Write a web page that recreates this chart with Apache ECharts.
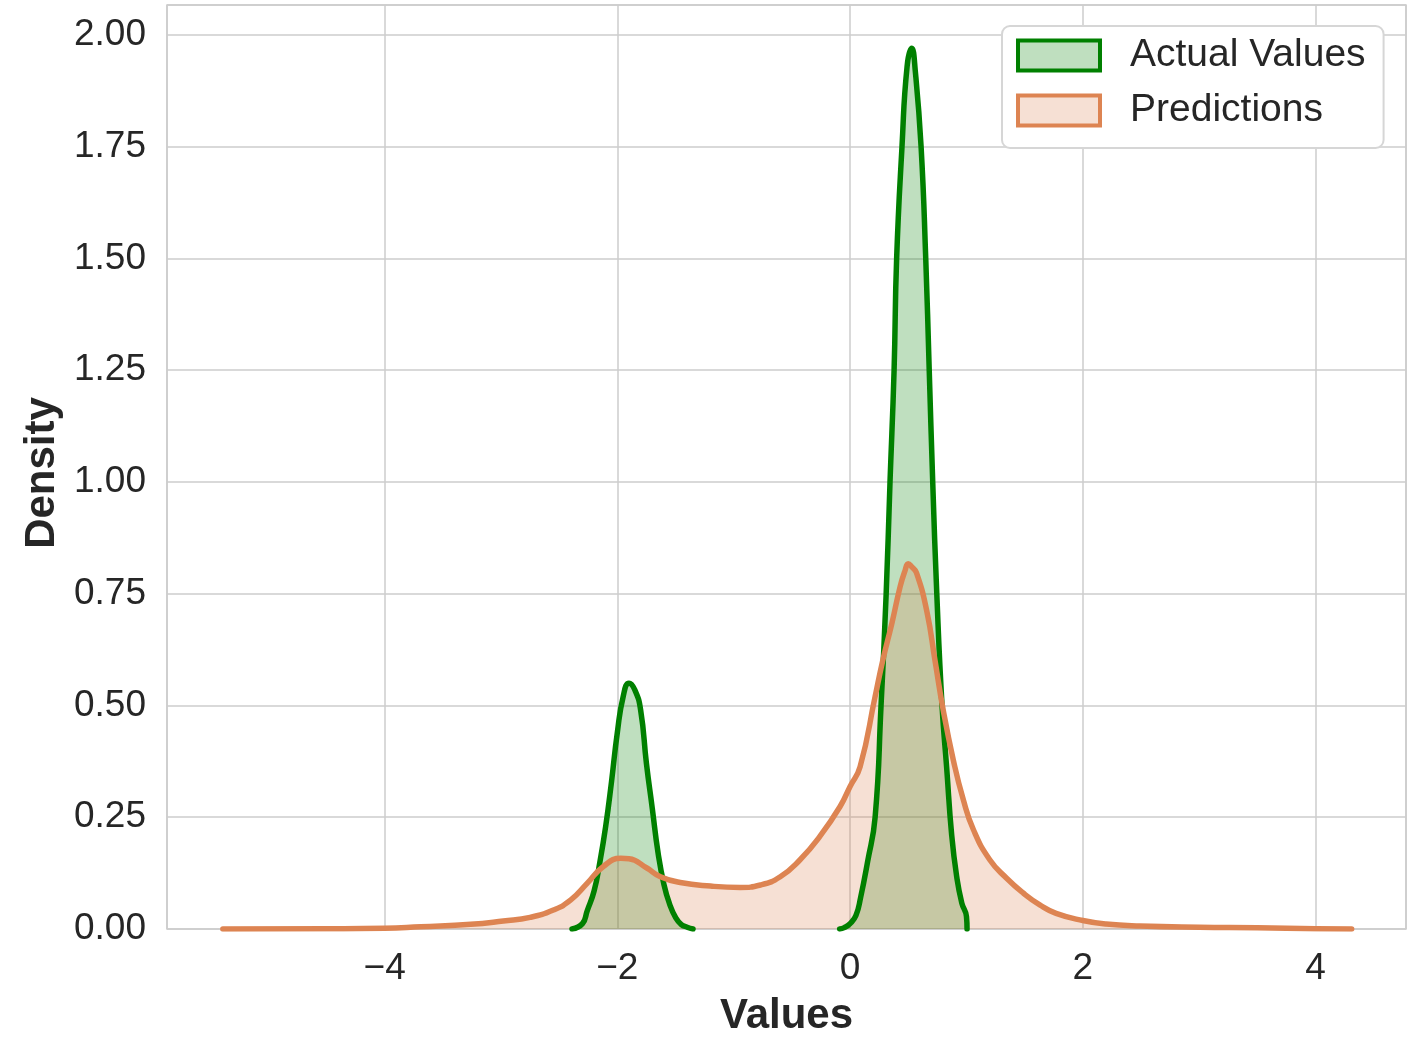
<!DOCTYPE html>
<html>
<head>
<meta charset="utf-8">
<script src="https://cdn.jsdelivr.net/npm/echarts@6/dist/echarts.min.js"></script>
<style>
  html, body { margin: 0; padding: 0; background: #fff; }
  #chart { width: 1426px; height: 1056px; }
</style>
</head>
<body>
<div id="chart"></div>
<script>
// density curves (x = value, y = density)
const actualX = [
  -2.39, -2.3, -2.26, -2.2, -2.15, -2.1, -2.05, -2.0, -1.95, -1.9, -1.85, -1.8, -1.75, -1.7,
  -1.65, -1.6, -1.55, -1.5, -1.45, -1.4, -1.35,
  -0.7, // gap between the two bumps
  -0.09, -0.05, 0.0, 0.05, 0.09, 0.15, 0.215, 0.266, 0.31, 0.343, 0.378, 0.40, 0.446, 0.49,
  0.53, 0.56, 0.61, 0.65, 0.68, 0.71, 0.745, 0.79, 0.83, 0.873, 0.916, 0.96, 1.0, 1.005
]
const actualDensity = [
  0, 0.012, 0.04, 0.085, 0.15, 0.23, 0.33, 0.44, 0.52, 0.55, 0.535, 0.49, 0.37, 0.27,
  0.17, 0.10, 0.055, 0.026, 0.01, 0.004, 0,
  null,
  0, 0.003, 0.012, 0.03, 0.07, 0.15, 0.25, 0.5, 0.75, 1.0, 1.25, 1.5, 1.75, 1.93,
  1.97, 1.92, 1.75, 1.5, 1.25, 1.0, 0.75, 0.5, 0.36, 0.21, 0.117, 0.058, 0.028, 0
]

const predX = [
  -5.39, -4.5, -4.0, -3.69, -3.26, -2.98, -2.75, -2.55, -2.4, -2.26, -2.12, -1.97, -1.9,
  -1.75, -1.63, -1.46, -1.2, -0.944, -0.77, -0.6, -0.43, -0.26, -0.086, 0.0, 0.086, 0.215,
  0.28, 0.36, 0.43, 0.47, 0.5, 0.53, 0.57, 0.66, 0.73, 0.8, 0.887, 0.973, 1.06, 1.2, 1.345,
  1.49, 1.63, 1.77, 2.0, 2.2, 2.49, 3.0, 3.5, 4.0, 4.31
]
const predDensity = [
  0, 0.0005, 0.0015, 0.005, 0.0105, 0.018, 0.026, 0.0425, 0.065, 0.102, 0.14, 0.158, 0.157,
  0.137, 0.117, 0.104, 0.096, 0.093, 0.0985, 0.117, 0.155, 0.207, 0.274, 0.319, 0.363, 0.52,
  0.60, 0.685, 0.766, 0.80, 0.817, 0.81, 0.797, 0.71, 0.6, 0.49, 0.378, 0.289, 0.222, 0.155, 0.1135,
  0.08, 0.054, 0.035, 0.019, 0.011, 0.0067, 0.004, 0.003, 0.0008, 0
]

const seriesNames = ['Actual Values', 'Predictions']
const lineColors = ['#008000', '#dd8452']
const fillColors = ['rgba(0,128,0,0.25)', 'rgba(221,132,82,0.25)']

const toPairs = (xs, ys) => xs.map((x, i) => [x, ys[i] === null ? '-' : ys[i]])

const textColor = '#262626'
const fontFamily = '"Liberation Sans", Arial, sans-serif'
const chart = echarts.init(document.getElementById('chart'))

const densitySeries = (i, xs, ys) => ({
  name: seriesNames[i],
  type: 'line',
  data: toPairs(xs, ys),
  smooth: true,
  showSymbol: false,
  connectNulls: false,
  lineStyle: { color: lineColors[i], width: 5.5, join: 'round', cap: 'round' },
  itemStyle: { color: lineColors[i] },
  areaStyle: { color: fillColors[i], opacity: 1, origin: 'start' } // opacity 1, alpha lives in the colour
})

chart.setOption({
  animation: false,
  backgroundColor: '#ffffff',
  textStyle: { fontFamily },
  grid: {
    left: 167, right: 20, top: 5, bottom: 127,
    show: true,
    borderColor: '#cccccc',
    borderWidth: 1.5
  },
  legend: {
    orient: 'vertical',
    left: 1002,
    top: 26,
    padding: [10, 18, 18, 14],
    itemGap: 16,
    itemWidth: 82,
    itemHeight: 30,
    backgroundColor: '#ffffff',
    borderColor: '#d6d6d6',
    borderWidth: 2,
    borderRadius: 8,
    textStyle: {
      color: textColor, fontSize: 39, fontFamily, lineHeight: 36,
      padding: [0, 0, 0, 25]
    },
    data: seriesNames.map((name, i) => ({
      name,
      icon: 'rect',
      itemStyle: { color: fillColors[i], borderColor: lineColors[i], borderWidth: 4 }
    }))
  },
  xAxis: {
    type: 'value',
    min: -5.87,
    max: 4.777,
    splitNumber: 5,
    name: 'Values',
    nameLocation: 'middle',
    nameGap: 66,
    nameTextStyle: { color: textColor, fontSize: 42, fontWeight: 'bold', fontFamily },
    axisLine: { show: false },
    axisTick: { show: false },
    axisLabel: {
      showMinLabel: false,
      showMaxLabel: false,
      color: textColor, fontSize: 37, fontFamily, margin: 21,
      formatter: v => (v < 0 ? '\u2212' + Math.abs(v) : String(v))
    },
    splitLine: { show: true, lineStyle: { color: '#cccccc', width: 1.5 } }
  },
  yAxis: {
    type: 'value',
    min: 0,
    max: 2.067,
    interval: 0.25,
    name: 'Density',
    nameLocation: 'middle',
    nameGap: 104,
    nameRotate: 90,
    nameTextStyle: {
      color: textColor, fontSize: 42, fontWeight: 'bold', fontFamily,
      padding: [0, 12, 0, 0]
    },
    axisLine: { show: false },
    axisTick: { show: false },
    axisLabel: {
      showMaxLabel: false,
      color: textColor, fontSize: 37, fontFamily, margin: 21,
      formatter: v => v.toFixed(2)
    },
    splitLine: { show: true, lineStyle: { color: '#cccccc', width: 1.5 } }
  },
  series: [
    densitySeries(0, actualX, actualDensity),
    densitySeries(1, predX, predDensity)
  ]
})
</script>
</body>
</html>
